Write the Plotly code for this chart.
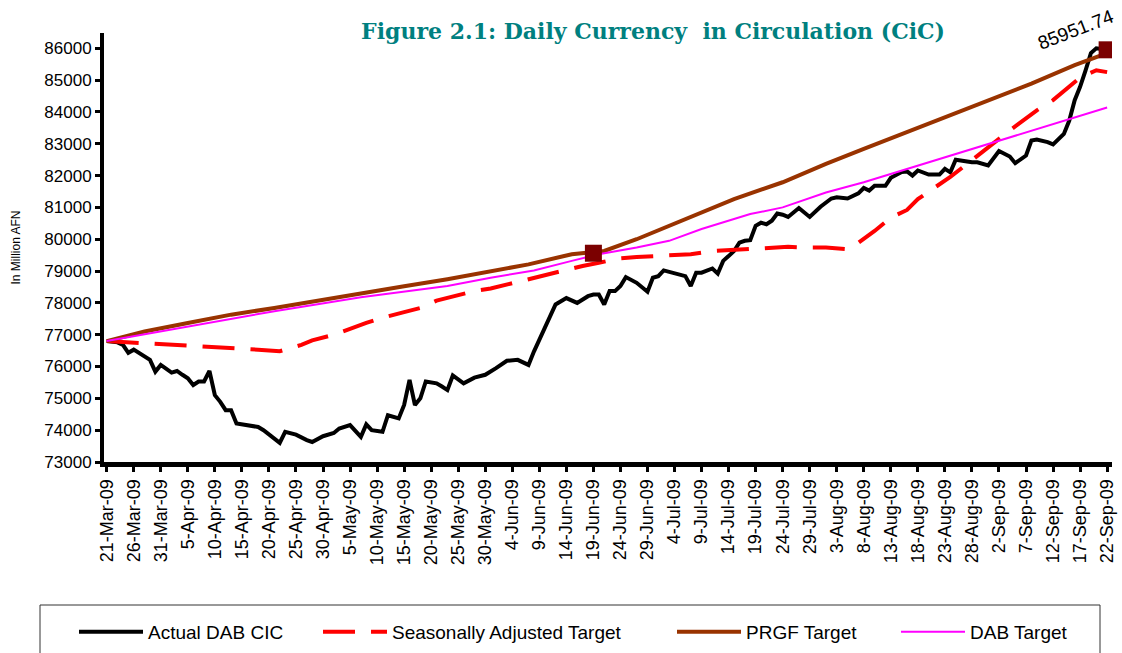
import pandas as pd
import plotly.graph_objects as go

START = "2009-03-21"

# ---- data (day offsets from 21-Mar-09, values in million AFN) ----
actual_days = [0, 2, 3, 4, 5, 8, 9, 10, 12, 13, 14, 15, 16, 17, 18, 19, 20, 21, 22, 23, 24,
               26, 28, 29, 31, 32, 33, 35, 37, 38, 40, 42, 43, 45, 47, 48, 49, 51, 52, 54,
               55, 56, 57, 58, 59, 61, 62, 63, 64, 66, 68, 70, 72, 74, 76, 78, 79, 81, 82,
               83, 85, 87, 89, 90, 91, 92, 93, 94, 95, 96, 98, 99, 100, 101, 102, 103, 105,
               107, 108, 109, 110, 112, 113, 114, 115, 116, 117, 118, 119, 120, 121, 122,
               123, 124, 125, 126, 128, 130, 132, 134, 135, 137, 139, 140, 141, 142, 144,
               145, 147, 148, 149, 150, 152, 154, 155, 156, 157, 158, 160, 161, 162, 163,
               165, 167, 168, 170, 171, 172, 174, 175, 177, 178, 179, 180, 181, 182, 183,
               184, 185]
actual_vals = [76800, 76760, 76680, 76430, 76530, 76210, 75840, 76050, 75810, 75860, 75740,
               75630, 75420, 75530, 75530, 75860, 75100, 74890, 74630, 74630, 74210, 74160,
               74100, 74000, 73740, 73600, 73950, 73860, 73690, 73630, 73810, 73910, 74050,
               74160, 73790, 74180, 74000, 73950, 74470, 74370, 74790, 75580, 74790, 75000,
               75530, 75470, 75370, 75260, 75720, 75470, 75650, 75740, 75950, 76180, 76210,
               76050, 76470, 77210, 77520, 77950, 78150, 78000, 78210, 78260, 78260, 77950,
               78370, 78370, 78530, 78810, 78630, 78490, 78350, 78790, 78840, 79020, 78920,
               78840, 78530, 78950, 78950, 79080, 78920, 79320, 79470, 79630, 79890, 79950,
               79970, 80420, 80520, 80470, 80580, 80810, 80770, 80700, 80980, 80700, 81020,
               81280, 81320, 81280, 81440, 81610, 81530, 81680, 81680, 81930, 82110, 82130,
               82000, 82160, 82030, 82030, 82210, 82100, 82500, 82470, 82420, 82420, 82370,
               82320, 82770, 82600, 82390, 82630, 83100, 83130, 83050, 82980, 83310, 83730,
               84370, 84790, 85300, 85850, 86000, 85990, 85951.74]

seas_days = [0, 7, 11, 18, 21, 28, 32, 36, 38, 42, 48, 51, 55, 58, 61, 64, 68, 71, 78, 81,
             88, 91, 95, 98, 102, 108, 112, 118, 122, 126, 129, 133, 137, 139, 142, 145, 148,
             150, 153, 156, 159, 164, 167, 172, 175, 180, 183, 185]
seas_vals = [76800, 76740, 76690, 76620, 76600, 76530, 76480, 76680, 76820, 77000, 77370,
             77530, 77710, 77840, 78070, 78190, 78370, 78450, 78740, 78890, 79160, 79260,
             79400, 79440, 79470, 79530, 79630, 79680, 79740, 79760, 79740, 79740, 79690,
             79890, 80260, 80680, 80920, 81260, 81610, 81960, 82350, 83020, 83420, 84050,
             84370, 85080, 85310, 85250]

prgf_days = [0, 7, 15, 23, 31, 39, 47, 55, 63, 71, 78, 86, 92, 98, 104, 110, 116, 125, 133,
             140, 148, 155, 163, 171, 179, 184, 185]
prgf_vals = [76800, 77100, 77370, 77630, 77840, 78070, 78320, 78520, 78740, 79000, 79210,
             79530, 79630, 80000, 80420, 80840, 81260, 81790, 82370, 82840, 83370, 83840,
             84370, 84890, 85470, 85790, 85850]

dab_days = [0, 15, 31, 47, 63, 71, 79, 86, 91, 98, 104, 110, 116, 119, 125, 133, 140, 148,
            155, 163, 171, 179, 185]
dab_vals = [76800, 77260, 77740, 78180, 78530, 78790, 79020, 79320, 79530, 79740, 79950,
            80320, 80630, 80790, 81000, 81470, 81790, 82210, 82580, 83000, 83420, 83840,
            84140]

marker_days = [90, 185]
marker_vals = [79560, 85951.74]

series_names = ["Actual DAB CIC", "Seasonally Adjusted Target", "PRGF Target", "DAB Target"]
title_text = "Figure 2.1: Daily Currency\u00a0 in Circulation (CiC)"
y_title = "In Million AFN"


def to_dates(days):
    base = pd.Timestamp(START)
    return [base + pd.Timedelta(days=d) for d in days]


# ---- layout geometry (pixels) ----
W, H = 1122, 653
ML, MR, MT, MB = 104, 10, 33, 191
PW, PH = W - ML - MR, H - MT - MB


def px_x(p):
    return (p - ML) / PW


def px_y(p):
    return (H - MB - p) / PH


fig = go.Figure()
fig.add_trace(go.Scatter(x=to_dates(actual_days), y=actual_vals, mode="lines",
                         name=series_names[0], line=dict(color="#000000", width=4),
                         legend="legend"))
fig.add_trace(go.Scatter(x=to_dates(seas_days), y=seas_vals, mode="lines",
                         name=series_names[1],
                         line=dict(color="#FF0000", width=4, dash="32px,16px"),
                         legend="legend2"))
fig.add_trace(go.Scatter(x=to_dates(prgf_days), y=prgf_vals, mode="lines",
                         name=series_names[2], line=dict(color="#993300", width=4),
                         legend="legend3"))
fig.add_trace(go.Scatter(x=to_dates(dab_days), y=dab_vals, mode="lines",
                         name=series_names[3], line=dict(color="#FF00FF", width=2),
                         legend="legend4"))
fig.add_trace(go.Scatter(x=to_dates(marker_days), y=marker_vals, mode="markers",
                         marker=dict(symbol="square", size=17, color="#7B0000"),
                         showlegend=False, hoverinfo="skip"))

fig.add_annotation(x=to_dates([actual_days[-1]])[0], y=actual_vals[-1],
                   text=f"{actual_vals[-1]:.2f}", textangle=-21, showarrow=False,
                   xshift=-31, yshift=20,
                   font=dict(family="Arial, Liberation Sans", size=19, color="#000000"))

ITEM_W = 64
leg_common = dict(orientation="h", font=dict(family="Arial, Liberation Sans", size=19,
                                             color="#000000"),
                  bgcolor="rgba(0,0,0,0)", borderwidth=0, xanchor="left",
                  yanchor="middle", y=px_y(632), itemwidth=ITEM_W)
text_starts = [148, 392, 746, 970]
legends = {}
for i, key in enumerate(["legend", "legend2", "legend3", "legend4"]):
    legends[key] = dict(leg_common, x=px_x(text_starts[i] - ITEM_W - 10))

fig.add_shape(type="rect", xref="paper", yref="paper",
              x0=px_x(40), x1=px_x(1100), y0=px_y(662), y1=px_y(605),
              line=dict(color="#333333", width=1), fillcolor="rgba(0,0,0,0)")

base = pd.Timestamp(START)
x_start = base - pd.Timedelta(hours=12)
x_end = base + pd.Timedelta(hours=185.9 * 24)
fig.update_layout(
    width=W, height=H,
    margin=dict(l=ML, r=MR, t=MT, b=MB, autoexpand=False),
    paper_bgcolor="white", plot_bgcolor="white",
    title=dict(text=f"<b>{title_text}</b>", x=653 / W, xref="container", xanchor="center",
               y=1 - 31 / H, yref="container", yanchor="middle",
               font=dict(family="DejaVu Serif", size=22, color="#008080")),
    xaxis=dict(type="date", range=[x_start, x_end], tick0=START,
               dtick=5 * 86400000, tickformat="%-d-%b-%y", tickangle=-90,
               ticks="outside", ticklen=5, tickwidth=3, tickcolor="black",
               showline=True, linewidth=5, linecolor="black", showgrid=False,
               zeroline=False,
               tickfont=dict(family="Arial, Liberation Sans", size=18, color="black")),
    yaxis=dict(range=[73000, 86480], dtick=1000, tick0=73000, tickformat="d",
               ticks="outside", ticklen=5,
               tickwidth=3, tickcolor="black", showline=True, linewidth=4,
               linecolor="black", showgrid=False, zeroline=False,
               tickfont=dict(family="Arial, Liberation Sans", size=17, color="black"),
               title=dict(text=y_title, standoff=22,
                          font=dict(family="Arial, Liberation Sans", size=12,
                                    color="black"))),
    **legends,
)

fig.write_html("out.html", config={"displayModeBar": False},
               post_script="document.body.style.margin='0px';")
